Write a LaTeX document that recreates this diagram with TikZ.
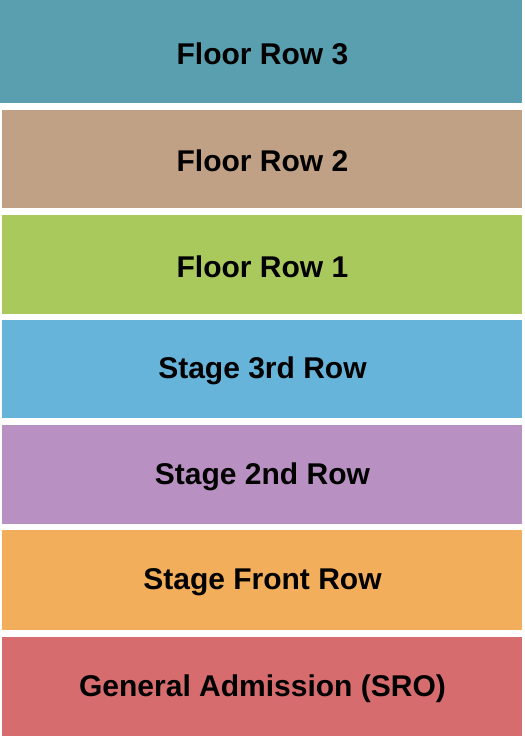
\documentclass[tikz,border=0pt]{standalone}
\usepackage{fontspec}
\setmainfont{Liberation Sans}

\definecolor{rowthree}{HTML}{5A9FB0}
\definecolor{rowtwo}{HTML}{C1A185}
\definecolor{rowone}{HTML}{A9C95C}
\definecolor{stagethird}{HTML}{67B4DB}
\definecolor{stagesecond}{HTML}{B990C2}
\definecolor{stagefront}{HTML}{F2AE5A}
\definecolor{genadm}{HTML}{D66C6E}

\begin{document}
\begin{tikzpicture}[x=1pt,y=-1pt,
  seclabel/.style={font=\fontsize{30}{30}\selectfont\bfseries,text=black}]
\useasboundingbox (0,0) rectangle (525,740);

 \fill[rowthree](0,0) rectangle (522,103);
 \fill[rowtwo](2,110) rectangle (522,208);
 \fill[rowone](2,215) rectangle (522,314);
 \fill[stagethird](2,320) rectangle (522,418);
 \fill[stagesecond](2,425) rectangle (522,524);
 \fill[stagefront](2,530) rectangle (522,630);
 \fill[genadm](2,637) rectangle (522,736);

 \node[seclabel] (floor3) at (262.5,53.5) {Floor Row 3};
 \node[seclabel] (floor2) at (262.5,160.5) {Floor Row 2};
 \node[seclabel] (floor1) at (262.5,266.5) {Floor Row 1};
 \node[seclabel] (stage3) at (262.5,371) {Stage 3rd Row};
 \node[seclabel] (stage2) at (262.5,477) {Stage 2nd Row};
 \node[seclabel] (stagefr) at (262.5,582.5) {Stage Front Row};
 \node[seclabel] (gensro) at (262.5,688.5) {General Admission (SRO)};
\end{tikzpicture}
\end{document}
